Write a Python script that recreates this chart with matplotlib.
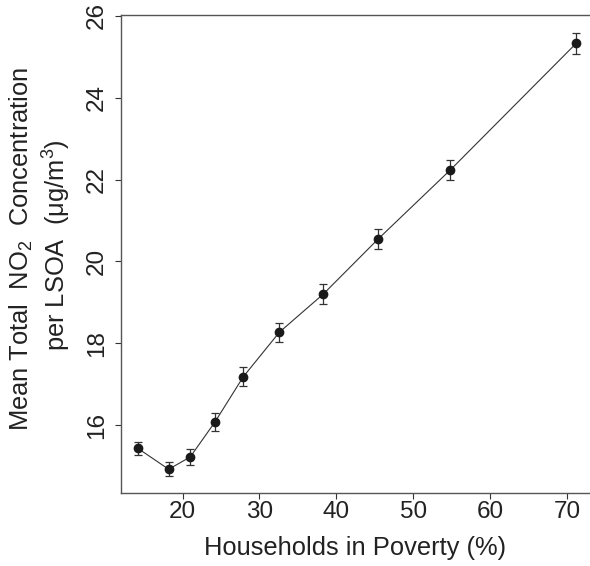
import numpy as np
import matplotlib
matplotlib.use("Agg")
import matplotlib.pyplot as plt

plt.rcParams['font.family'] = ['Liberation Sans', 'DejaVu Sans']
plt.rcParams['mathtext.fontset'] = 'custom'
plt.rcParams['mathtext.rm'] = 'Liberation Sans'
plt.rcParams['mathtext.it'] = 'Liberation Sans'

# values
poverty_pct = [14.2, 18.2, 21.0, 24.2, 27.9, 32.6, 38.3, 45.4, 54.8, 71.2]
no2_mean = [15.43, 14.92, 15.22, 16.07, 17.18, 18.27, 19.20, 20.54, 22.23, 25.33]
no2_err = [0.15, 0.17, 0.19, 0.22, 0.23, 0.235, 0.245, 0.245, 0.25, 0.26]
x_ticks = [20, 30, 40, 50, 60, 70]
y_ticks = [16, 18, 20, 22, 24, 26]

INK = '#222222'
LINE = '#333333'
LABEL_SIZE = 18.4
TICK_SIZE = 17.5

fig = plt.figure(figsize=(5.9, 5.66), dpi=100)
ax = fig.add_axes([121 / 590, 1 - 493 / 566, (594 - 121) / 590, (493 - 15) / 566])

ax.errorbar(poverty_pct, no2_mean, yerr=no2_err, color=LINE, lw=0.8,
            marker='o', ms=6, mfc='#1a1a1a', mec='#1a1a1a',
            ecolor=LINE, elinewidth=0.9, capsize=3.2, capthick=0.9)

ax.set_xlim(12.0, 73.5)
ax.set_ylim(14.34, 26.02)
ax.set_xticks(x_ticks)
ax.set_yticks(y_ticks)
ax.tick_params(axis='both', direction='out', length=4.5, width=0.8,
               color=LINE, labelcolor=INK, labelsize=TICK_SIZE)
ax.tick_params(axis='x', pad=1.5)
ax.tick_params(axis='y', pad=5)
for lab in ax.get_yticklabels():
    lab.set_rotation(90)
    lab.set_va('center')
for sp in ax.spines.values():
    sp.set_color('#555555')
    sp.set_linewidth(1.0)

fig.text(355 / 590, 1 - 555 / 566, 'Households in Poverty (%)',
         ha='center', va='baseline', fontsize=LABEL_SIZE, color=INK)

fig.text(21 / 590, 1 - 249 / 566, r'Mean Total  NO$_2$  Concentration',
         rotation=90, ha='center', va='center', fontsize=LABEL_SIZE, color=INK)
fig.text(57 / 590, 1 - 245 / 566, r'per LSOA  ($\mathrm{\mu}$g/m$^3$)',
         rotation=90, ha='center', va='center', fontsize=LABEL_SIZE, color=INK)

fig.savefig('out.png', dpi=100)
